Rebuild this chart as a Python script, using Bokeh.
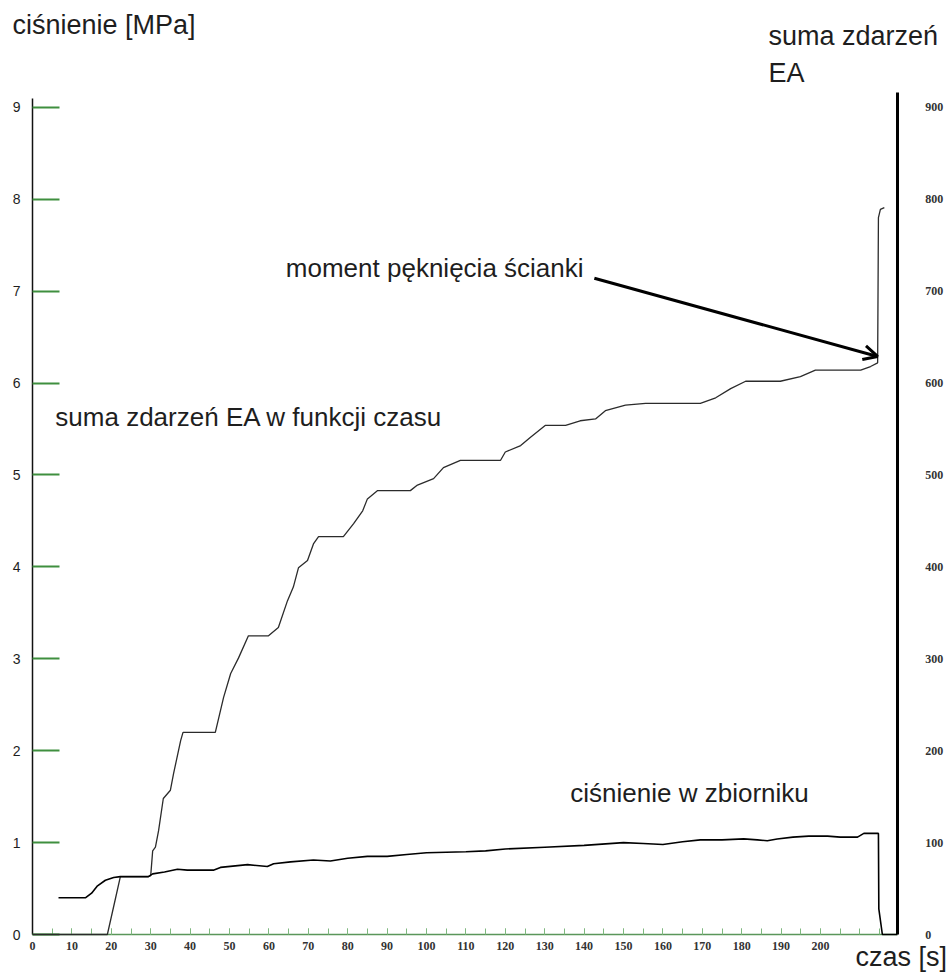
from bokeh.plotting import figure
from bokeh.models import (Range1d, LinearAxis, FixedTicker, Label, Arrow, OpenHead)
from bokeh.embed import file_html
from bokeh.resources import INLINE

# pressure in the tank [MPa] over time [s]
pressure_t = [6.6, 13.5, 15.0, 16.5, 18.5, 20.6, 22.3, 29.4, 30.5, 33.5,
              36.8, 39.3, 45.9, 47.7, 54.6, 59.6, 61.2, 65.5, 71.3, 75.6,
              80, 85, 90, 95, 100, 110, 115, 120, 130, 140,
              150, 155, 160, 165, 169.5, 175, 180.5, 184, 186.5, 189,
              193, 197, 201.8, 205, 209.4, 211, 214.7, 214.8, 215.7, 219.5]
pressure_mpa = [0.40, 0.40, 0.45, 0.53, 0.59, 0.62, 0.63, 0.63, 0.66, 0.68,
                0.71, 0.70, 0.70, 0.73, 0.76, 0.74, 0.77, 0.79, 0.81, 0.80,
                0.83, 0.85, 0.85, 0.87, 0.89, 0.90, 0.91, 0.93, 0.95, 0.97,
                1.00, 0.99, 0.98, 1.01, 1.03, 1.03, 1.04, 1.03, 1.02, 1.04,
                1.06, 1.07, 1.07, 1.06, 1.06, 1.10, 1.10, 0.28, 0.0, 0.0]

# cumulative acoustic emission (EA) event count over time [s]
ea_t = [0, 19.0, 21.1, 22.3, 29.4, 30.0, 30.5, 31.2, 32.0, 33.2,
        35.0, 35.8, 37.6, 38.2, 46.4, 48.5, 50.3, 52.3, 54.8, 59.9,
        62.4, 64.7, 66.2, 67.5, 69.8, 71.3, 72.6, 78.9, 81.5, 83.8,
        85.0, 87.6, 95.9, 97.7, 101.8, 104.3, 108.6, 118.8, 120.0, 123.9,
        126.4, 130.2, 135.3, 139.0, 142.9, 145.4, 150.5, 155.6, 169.5, 173.4,
        177.2, 181.0, 189.8, 194.9, 198.7, 210.2, 212.7, 214.5, 214.7, 215.2,
        216.2]
ea_count = [0, 0, 40, 63, 63, 64, 91, 95, 113, 148,
            157, 175, 211, 220, 220, 258, 284, 301, 325, 325,
            334, 363, 378, 399, 407, 425, 433, 433, 447, 461,
            474, 483, 483, 489, 496, 508, 516, 516, 525, 532,
            541, 554, 554, 559, 561, 570, 576, 578, 578, 584,
            594, 602, 602, 607, 614, 614, 618, 622, 780, 789,
            791]

time_ticks = list(range(0, 201, 10))
time_minor = list(range(0, 220, 5))
pressure_ticks = list(range(0, 10))
grid_ticks = list(range(1, 10))
ea_ticks = list(range(0, 901, 100))

# extent of the axes box
T_END = 219.5
P_TOP = 9.1
EA_TOP = 916

# point of wall rupture (arrow tip) and the arrow tail
rupture_t, rupture_ea = 214.5, 629
arrow_tail_t, arrow_tail_ea = 142.6, 714

SANS = "Liberation Sans"
NARROW = "Liberation Sans Narrow"
TXT = "#1e1e1e"
GRID = "#6a8d6a"
GREEN = "#3f8f3f"

# the frame spans the whole canvas; axes are pinned at fixed data locations
p = figure(width=952, height=976,
           x_range=Range1d(-8.122, 233.5), y_range=Range1d(-0.457, 10.163),
           output_backend="svg", toolbar_location=None,
           x_axis_type=None, y_axis_type=None, min_border=0)
p.outline_line_color = None
p.background_fill_color = "white"
p.border_fill_color = "white"
p.extra_y_ranges = {"ea": Range1d(-45.7, 1016.3)}

# left pressure axis
ya = LinearAxis(fixed_location=0, bounds=(0, P_TOP), ticker=FixedTicker(ticks=pressure_ticks))
ya.axis_line_color = "#111111"
ya.axis_line_width = 1.5
ya.major_tick_in = 27
ya.major_tick_out = 0
ya.major_tick_line_color = GREEN
ya.major_tick_line_width = 2
ya.minor_tick_line_color = None
ya.major_label_standoff = 12
ya.major_label_text_font = SANS
ya.major_label_text_font_size = "14px"
ya.major_label_text_color = TXT
p.add_layout(ya, "left")

# bottom time axis
xa = LinearAxis(fixed_location=0, bounds=(0, T_END),
                ticker=FixedTicker(ticks=time_ticks, minor_ticks=time_minor))
xa.axis_line_color = "#5a965a"
xa.axis_line_width = 1.5
xa.major_tick_in = 6
xa.major_tick_out = 0
xa.minor_tick_in = 6
xa.minor_tick_out = 0
xa.major_tick_line_color = "#7fb87f"
xa.minor_tick_line_color = "#7fb87f"
xa.major_label_standoff = 7
xa.major_label_text_font = NARROW
xa.major_label_text_font_style = "bold"
xa.major_label_text_font_size = "12px"
xa.major_label_text_color = "#333333"
p.add_layout(xa, "below")

# right axis: cumulative EA events
ra = LinearAxis(y_range_name="ea", fixed_location=T_END, bounds=(0, EA_TOP),
                ticker=FixedTicker(ticks=ea_ticks))
ra.axis_line_color = "black"
ra.axis_line_width = 3
ra.major_tick_line_color = None
ra.minor_tick_line_color = None
ra.major_label_standoff = 22
ra.major_label_text_font = NARROW
ra.major_label_text_font_style = "bold"
ra.major_label_text_font_size = "12px"
ra.major_label_text_color = "#333333"
p.add_layout(ra, "right")

# horizontal grid lines across the axes box only
p.ygrid.ticker = FixedTicker(ticks=grid_ticks)
p.ygrid.cross_bounds = (0, T_END)
p.ygrid.grid_line_color = GRID
p.ygrid.grid_line_width = 1
p.xgrid.visible = False

# curves (drawn above the axis lines)
r1 = p.line(ea_t, ea_count, y_range_name="ea", line_color="#2b2b2b", line_width=1.3)
r2 = p.line(pressure_t, pressure_mpa, line_color="black", line_width=1.6)
r1.level = "annotation"
r2.level = "annotation"

# rupture arrow
p.add_layout(Arrow(x_start=arrow_tail_t, y_start=arrow_tail_ea,
                   x_end=rupture_t, y_end=rupture_ea, y_range_name="ea",
                   line_color="black", line_width=3,
                   end=OpenHead(size=14, line_width=3, line_color="black")))


def text(x, y, s, size):
    p.add_layout(Label(x=x, y=y, text=s,
                       text_font=SANS, text_font_size=size,
                       text_color=TXT, text_baseline="alphabetic",
                       text_align="left"))


# axis titles
text(-5.1, 9.90, "ciśnienie [MPa]", "27px")
text(186.8, 9.78, "suma zdarzeń", "27px")
text(186.8, 9.37, "EA", "27px")
text(208.9, -0.24, "czas [s]", "27px")

# in-plot annotations
text(64.3, 7.25, "moment pęknięcia ścianki", "26px")
text(5.8, 5.63, "suma zdarzeń EA w funkcji czasu", "26px")
text(136.5, 1.54, "ciśnienie w zbiorniku", "26px")

open("out.html", "w").write(file_html(p, INLINE))
